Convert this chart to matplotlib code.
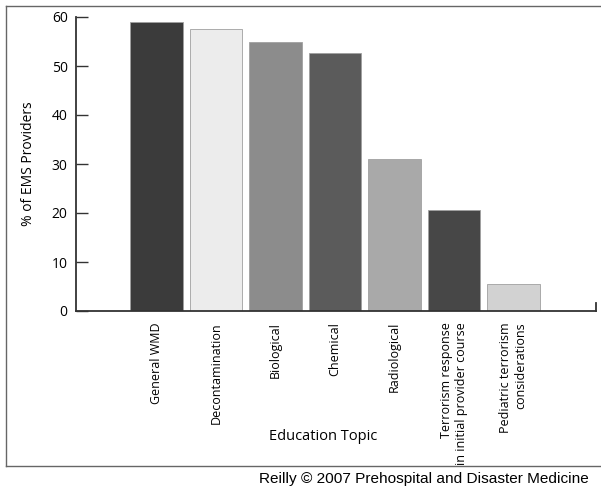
import matplotlib
matplotlib.use('Agg')
import matplotlib.pyplot as plt
from matplotlib.lines import Line2D

# Dane
tematy = ['General WMD', 'Decontamination', 'Biological', 'Chemical', 'Radiological',
          'Terrorism response\nin initial provider course',
          'Pediatric terrorism\nconsiderations']
procent = [59.0, 57.5, 54.9, 52.6, 31.0, 20.6, 5.5]
kolory = ['#3b3b3b', '#ececec', '#8c8c8c', '#5b5b5b', '#a9a9a9', '#474747', '#d2d2d2']
y_ticks = [0, 10, 20, 30, 40, 50, 60]

plt.rcParams['font.family'] = ['Open Sans', 'DejaVu Sans']

W, H = 601, 487
fig = plt.figure(figsize=(W / 100, H / 100), dpi=100)
ax = fig.add_axes([76 / W, (H - 311) / H, (596 - 76) / W, (311 - 17) / H])

x = list(range(len(tematy)))
ax.bar(x, procent, width=0.89, color=kolory, edgecolor='#a0a0a0', linewidth=0.6)

ax.set_xlim(-1.353, 7.387)
ax.set_ylim(0, 60)
ax.set_yticks(y_ticks)
ax.set_yticklabels([str(t) for t in y_ticks], fontsize=10)
ax.tick_params(axis='y', direction='in', length=8.6, width=1, color='#333333', pad=6)
ax.set_xticks(x)
ax.set_xticklabels(tematy, rotation=90, fontsize=9, va='top', ha='center',
                   multialignment='right')
ax.tick_params(axis='x', length=0, pad=8)

for s in ['top', 'right']:
    ax.spines[s].set_visible(False)
for s in ['left', 'bottom']:
    ax.spines[s].set_linewidth(1.3)
    ax.spines[s].set_color('#333333')

# mały znacznik na końcu osi x
ax.plot([7.387, 7.387], [0, 1.6], color='#333333', lw=1.3, clip_on=False)

ax.set_ylabel('% of EMS Providers', fontsize=10)
ax.yaxis.set_label_coords(-(76 - 36) / (596 - 76), 0.5)
fig.text(323 / W, 1 - 437 / H, 'Education Topic', fontsize=10.5, ha='center', va='center')

# ramka wokół rysunku
fig.add_artist(Line2D([6 / W, 6 / W], [1 - 6 / H, 1 - 466 / H], color='#666666', lw=1))
fig.add_artist(Line2D([6 / W, 1.0], [1 - 6 / H, 1 - 6 / H], color='#666666', lw=1))
fig.add_artist(Line2D([6 / W, 1.0], [1 - 466 / H, 1 - 466 / H], color='#666666', lw=1))

fig.text(259 / W, 1 - 479 / H, 'Reilly \u00a9 2007 Prehospital and Disaster Medicine',
         fontsize=11.1, family='Liberation Sans', ha='left', va='center')

fig.savefig('out.png', dpi=100)
